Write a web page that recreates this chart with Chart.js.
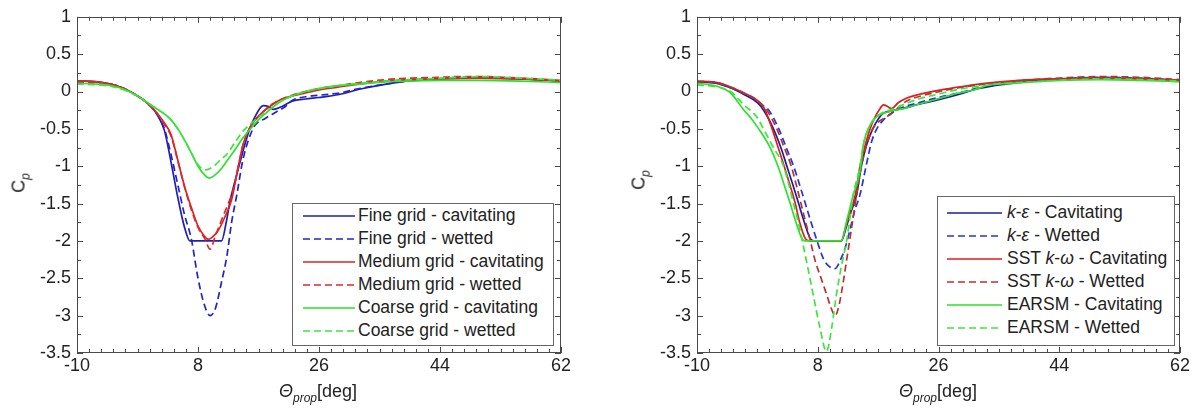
<!DOCTYPE html>
<html>
<head>
<meta charset="utf-8">
<script src="https://cdn.jsdelivr.net/npm/chart.js@4"></script>
<style>
  body { margin: 0; background: #fff; }
  #wrap { position: relative; width: 1199px; height: 410px; background: #fff; font-family: 'Liberation Sans', Arial, sans-serif; color: #222; }
  canvas { position: absolute; top: 0; }
  .ytitle { position: absolute; font-size: 18px; white-space: nowrap; transform: translate(-50%, -50%) rotate(-90deg); }
  .ytitle sub, .xtitle sub { font-size: 12px; line-height: 0; font-style: italic; }
  .xtitle { position: absolute; font-size: 18px; line-height: 20px; white-space: nowrap; transform: translateX(-50%); }
  .legend { position: absolute; border: 1px solid #666; background: #fff; box-sizing: border-box; font-size: 17.5px; }
  .legend .row { display: flex; align-items: center; height: 23px; white-space: nowrap; }
  .legend svg { display: block; }
</style>
</head>
<body>
<div id="wrap">
  <canvas id="c1" width="600" height="410" style="left:0"></canvas>
  <canvas id="c2" width="599" height="410" style="left:600px"></canvas>
  <div class="ytitle" style="left:19px;top:183px">C<sub>p</sub></div>
  <div class="ytitle" style="left:639px;top:180px">C<sub>p</sub></div>
  <div class="xtitle" style="left:318px;top:381px"><i>&Theta;</i><sub>prop</sub>[deg]</div>
  <div class="xtitle" style="left:938px;top:381px"><i>&Theta;</i><sub>prop</sub>[deg]</div>
  <div class="legend" id="leg1" style="left:292px;top:203px;width:262px;height:143px;padding-top:0px"></div>
  <div class="legend" id="leg2" style="left:937px;top:196px;width:238px;height:150px;padding-top:4px"></div>
</div>
<script>
'use strict';

// axis ticks
let xTickValues = [-10, 8, 26, 44, 62];
let yTickValues = [1, 0.5, 0, -0.5, -1, -1.5, -2, -2.5, -3, -3.5];

// ---- left chart: grid study ----
let gridLabels = ['Fine grid - cavitating', 'Fine grid - wetted', 'Medium grid - cavitating',
  'Medium grid - wetted', 'Coarse grid - cavitating', 'Coarse grid - wetted'];

let fineCavX = [-10, -7, -5, -3, -1, 0, 1, 2, 3, 4, 5, 6, 6.8, 11.5, 12.2, 12.8, 13.5, 14.3, 15, 15.7, 16.7, 17.7, 18.5, 19.2, 20.5, 22, 24, 26, 29, 32, 36, 40, 44, 50, 56, 62];
let fineCavY = [0.14, 0.13, 0.1, 0.04, -0.06, -0.12, -0.2, -0.32, -0.52, -0.95, -1.42, -1.82, -2.0, -2.0, -1.75, -1.45, -1.2, -0.93, -0.7, -0.5, -0.3, -0.19, -0.2, -0.24, -0.2, -0.13, -0.1, -0.08, -0.04, 0.03, 0.1, 0.15, 0.17, 0.18, 0.17, 0.14];

let fineWetX = [-10, -7, -5, -3, -1, 0, 1, 2, 3, 4, 5, 6, 7, 8, 9, 9.8, 10.6, 11.5, 12.3, 13, 13.8, 14.6, 15.5, 16.5, 18, 19.7, 21, 22, 24, 26, 29, 32, 36, 40, 44, 47, 50, 56, 62];
let fineWetY = [0.13, 0.12, 0.1, 0.04, -0.06, -0.12, -0.2, -0.32, -0.5, -0.85, -1.25, -1.65, -1.97, -2.5, -2.87, -3.0, -2.9, -2.55, -2.2, -1.75, -1.37, -0.95, -0.65, -0.45, -0.36, -0.27, -0.2, -0.12, -0.07, -0.05, -0.02, 0.04, 0.1, 0.15, 0.17, 0.19, 0.19, 0.17, 0.14];

let medCavX = [-10, -7, -5, -3, -1, 0, 1, 2, 3, 4, 5, 6, 7, 8, 9, 9.5, 10, 11, 12, 13, 14, 14.7, 15.5, 16.5, 17.7, 19, 20.5, 22, 24, 26, 29, 32, 36, 40, 44, 47, 50, 56, 62];
let medCavY = [0.14, 0.13, 0.1, 0.04, -0.06, -0.12, -0.2, -0.3, -0.42, -0.58, -0.92, -1.27, -1.55, -1.8, -1.94, -1.98, -1.96, -1.86, -1.68, -1.45, -1.0, -0.71, -0.52, -0.38, -0.27, -0.18, -0.1, -0.06, -0.02, 0.02, 0.06, 0.1, 0.14, 0.16, 0.17, 0.18, 0.18, 0.17, 0.14];

let medWetX = [-10, -7, -5, -3, -1, 0, 1, 2, 3, 4, 5, 6, 7, 8, 9, 9.8, 10.6, 11.5, 12.5, 13.3, 14, 14.7, 15.5, 16.5, 17.7, 19, 20.5, 22, 24, 26, 29, 32, 36, 40, 44, 47, 50, 56, 62];
let medWetY = [0.13, 0.12, 0.1, 0.04, -0.06, -0.12, -0.2, -0.3, -0.44, -0.6, -0.93, -1.28, -1.58, -1.82, -1.97, -2.11, -1.93, -1.72, -1.5, -1.3, -1.0, -0.72, -0.52, -0.38, -0.27, -0.17, -0.1, -0.05, 0.0, 0.04, 0.08, 0.12, 0.16, 0.18, 0.19, 0.2, 0.2, 0.18, 0.15];

let coarseCavX = [-10, -7, -5, -3, -1, 0, 1, 2, 3, 4, 5, 6, 7, 8, 9, 9.7, 10.5, 11.5, 12.3, 13.5, 14.7, 16, 17.2, 18.5, 20, 22, 24, 26, 29, 32, 36, 40, 44, 47, 50, 56, 62];
let coarseCavY = [0.11, 0.1, 0.08, 0.03, -0.06, -0.12, -0.18, -0.24, -0.3, -0.38, -0.5, -0.65, -0.82, -1.0, -1.12, -1.16, -1.12, -1.03, -0.93, -0.78, -0.62, -0.48, -0.36, -0.26, -0.15, -0.06, 0.0, 0.04, 0.08, 0.1, 0.13, 0.14, 0.15, 0.15, 0.15, 0.14, 0.12];

let coarseWetX = [-10, -7, -5, -3, -1, 0, 1, 2, 3, 4, 5, 6, 7, 8, 9, 9.8, 10.6, 11.5, 12.3, 13.5, 14.7, 16, 17.2, 18.5, 20, 22, 24, 26, 29, 32, 36, 40, 44, 47, 50, 56, 62];
let coarseWetY = [0.1, 0.09, 0.07, 0.02, -0.06, -0.12, -0.18, -0.24, -0.3, -0.38, -0.5, -0.65, -0.82, -0.98, -1.05, -1.03, -0.98, -0.9, -0.84, -0.68, -0.53, -0.42, -0.33, -0.25, -0.15, -0.06, 0.0, 0.04, 0.08, 0.11, 0.14, 0.16, 0.18, 0.19, 0.2, 0.18, 0.15];

// ---- right chart: turbulence models ----
let modelLabels = ['k-ε - Cavitating', 'k-ε - Wetted', 'SST k-ω - Cavitating',
  'SST k-ω - Wetted', 'EARSM - Cavitating', 'EARSM - Wetted'];

let keCavX = [-10, -7, -5, -3, -1, 0, 1.4, 2.5, 3.4, 4.3, 5.15, 6, 6.9, 7.4, 11.5, 12.3, 13, 13.8, 14.5, 15.3, 16.2, 17, 17.8, 19, 21, 23, 26, 29, 32, 36, 40, 44, 50, 56, 62];
let keCavY = [0.13, 0.11, 0.05, -0.04, -0.15, -0.26, -0.5, -0.75, -1.0, -1.25, -1.5, -1.75, -1.97, -2.0, -2.0, -1.8, -1.6, -1.38, -1.0, -0.71, -0.5, -0.37, -0.29, -0.26, -0.22, -0.17, -0.11, -0.04, 0.04, 0.1, 0.14, 0.16, 0.18, 0.17, 0.15];

let keWetX = [-10, -7, -5, -3, -1, 0, 0.7, 2.2, 3.3, 4.4, 5.3, 6.15, 7.0, 7.9, 8.9, 9.7, 10.6, 11.4, 12.1, 12.8, 13.5, 14.3, 15.2, 16, 16.8, 17.8, 19.3, 21, 23, 26, 29, 32, 36, 40, 44, 50, 56, 62];
let keWetY = [0.13, 0.11, 0.05, -0.03, -0.13, -0.2, -0.25, -0.5, -0.75, -1.0, -1.25, -1.5, -1.75, -2.0, -2.25, -2.34, -2.37, -2.25, -2.09, -1.85, -1.6, -1.38, -1.0, -0.68, -0.5, -0.38, -0.27, -0.2, -0.15, -0.08, -0.02, 0.05, 0.11, 0.15, 0.17, 0.19, 0.18, 0.15];

let sstCavX = [-10, -7, -5, -3, -1, 0, 1.2, 2.1, 3.0, 3.85, 4.65, 5.3, 6.15, 6.7, 11.5, 12.2, 12.9, 13.6, 14.3, 15.1, 15.8, 16.5, 17.2, 17.8, 18.4, 19, 20, 21.2, 23, 26.2, 29, 31.2, 34, 38, 44, 50, 56, 62];
let sstCavY = [0.14, 0.12, 0.06, -0.02, -0.12, -0.22, -0.5, -0.75, -1.0, -1.25, -1.5, -1.75, -1.97, -2.0, -2.0, -1.8, -1.6, -1.38, -1.0, -0.71, -0.5, -0.35, -0.24, -0.18, -0.2, -0.23, -0.15, -0.09, -0.04, 0.02, 0.06, 0.09, 0.12, 0.15, 0.17, 0.18, 0.17, 0.15];

let sstWetX = [-10, -7, -5, -3, -1, 0.4, 1.9, 3, 4.05, 4.8, 5.5, 6.2, 6.9, 7.6, 8.5, 9.3, 10, 10.6, 11.2, 11.8, 12.3, 13, 13.8, 14.5, 15.3, 16.2, 17.8, 18.8, 21.2, 23, 26.2, 29, 32, 36, 40, 44, 50, 56, 62];
let sstWetY = [0.14, 0.12, 0.06, -0.02, -0.12, -0.25, -0.5, -0.75, -1.0, -1.25, -1.5, -1.75, -2.0, -2.26, -2.5, -2.71, -2.9, -3.0, -2.85, -2.55, -2.26, -1.85, -1.38, -1.0, -0.71, -0.5, -0.36, -0.31, -0.13, -0.07, 0.0, 0.05, 0.09, 0.13, 0.16, 0.18, 0.2, 0.19, 0.16];

let earsmCavX = [-10, -7, -5, -3, -2, -0.8, 0.9, 2.07, 3.0, 3.9, 4.75, 5.65, 6.1, 11.5, 12.4, 13.3, 14.3, 14.8, 15.8, 16.5, 17.3, 19, 21.2, 23, 26.2, 29, 31.2, 33.7, 37, 40, 44, 50, 56, 62];
let earsmCavY = [0.11, 0.07, -0.02, -0.25, -0.35, -0.5, -0.75, -1.0, -1.25, -1.5, -1.75, -1.97, -2.0, -2.0, -1.7, -1.38, -1.07, -0.71, -0.45, -0.36, -0.31, -0.26, -0.22, -0.17, -0.09, -0.02, 0.02, 0.09, 0.11, 0.13, 0.15, 0.16, 0.15, 0.13];

let earsmWetX = [-10, -7, -5, -3, -1, -0.1, 1.4, 2.9, 3.7, 4.4, 5.1, 5.7, 6.5, 7.3, 8.3, 9.3, 10.1, 10.8, 11.5, 12.3, 13.3, 14.3, 14.8, 15.8, 17.3, 19, 21.2, 23, 26.2, 29, 32, 36, 40, 44, 50, 56, 62];
let earsmWetY = [0.09, 0.06, 0.0, -0.18, -0.35, -0.5, -0.75, -1.0, -1.25, -1.5, -1.75, -2.0, -2.35, -2.71, -3.15, -3.48, -3.15, -2.71, -2.35, -2.0, -1.38, -1.0, -0.71, -0.45, -0.3, -0.24, -0.16, -0.1, -0.03, 0.03, 0.07, 0.11, 0.13, 0.15, 0.17, 0.16, 0.14];

let gridColors = ['#1f1fb4', '#2323c8', '#dc2222', '#dc2a2a', '#2de02d', '#3ce63c'];
let modelColors = ['#1a1f9a', '#2436d6', '#e21c1c', '#bb3030', '#2de02d', '#3ce63c'];

Chart.defaults.font.family = "'Liberation Sans', Arial, sans-serif";
Chart.defaults.color = '#222';

function pts(xs, ys) {
  let out = [];
  for (let i = 0; i < xs.length; i++) {
    out.push({ x: xs[i], y: ys[i] });
  }
  return out;
}

// box round the plot plus inward minor/major ticks like matlab
let frameTicks = {
  id: 'frameTicks',
  afterDraw(chart) {
    let ctx = chart.ctx;
    let a = chart.chartArea;
    let xs = chart.scales.x;
    let ys = chart.scales.y;
    ctx.save();
    ctx.strokeStyle = '#4a4a4a';
    ctx.lineWidth = 1;
    ctx.strokeRect(Math.round(a.left) + 0.5, Math.round(a.top) + 0.5, Math.round(a.width) - 1, Math.round(a.height) - 1);
    ctx.beginPath();
    for (let i = 0; i <= 40; i++) {
      let px = Math.round(xs.getPixelForValue(-10 + i * 1.8)) + 0.5;
      let len = i % 10 === 0 ? 6 : 4;
      ctx.moveTo(px, a.bottom); ctx.lineTo(px, a.bottom - len);
      ctx.moveTo(px, a.top); ctx.lineTo(px, a.top + len);
    }
    for (let i = 0; i <= 18; i++) {
      let py = Math.round(ys.getPixelForValue(-3.5 + i * 0.25)) + 0.5;
      let len = i % 2 === 0 ? 6 : 4;
      ctx.moveTo(a.left, py); ctx.lineTo(a.left + len, py);
      ctx.moveTo(a.right, py); ctx.lineTo(a.right - len, py);
    }
    ctx.stroke();
    ctx.restore();
  }
};

function makeChart(id, labels, xArr, yArr, colors, yAxisWidth, padRight) {
  let datasets = [];
  for (let i = 0; i < labels.length; i++) {
    datasets.push({
      label: labels[i],
      data: pts(xArr[i], yArr[i]),
      borderColor: colors[i],
      borderWidth: 1.7,
      borderDash: i % 2 === 1 ? [7, 4] : [],
      pointRadius: 0,
      fill: false,
      cubicInterpolationMode: 'monotone',
      order: labels.length - i
    });
  }
  return new Chart(document.getElementById(id), {
    type: 'line',
    data: { datasets: datasets },
    options: {
      responsive: false,
      animation: false,
      devicePixelRatio: 1,
      layout: { padding: { left: 0, right: padRight, top: 15, bottom: 0 } },
      plugins: { legend: { display: false }, tooltip: { enabled: false } },
      scales: {
        x: {
          type: 'linear', min: -10, max: 62,
          grid: { display: false, drawTicks: false },
          border: { display: false },
          afterBuildTicks: function (s) { s.ticks = xTickValues.map(v => ({ value: v })); },
          afterFit: function (s) { s.height = 57; },
          ticks: { font: { size: 18 }, padding: 2, maxRotation: 0, autoSkip: false, callback: v => String(v) }
        },
        y: {
          type: 'linear', min: -3.5, max: 1,
          grid: { display: false, drawTicks: false },
          border: { display: false },
          afterBuildTicks: function (s) { s.ticks = yTickValues.map(v => ({ value: v })); },
          afterFit: function (s) { s.width = yAxisWidth; },
          ticks: { font: { size: 18 }, padding: 6, autoSkip: false, callback: v => String(v) }
        }
      }
    },
    plugins: [frameTicks]
  });
}

let chart1 = makeChart('c1', gridLabels,
  [fineCavX, fineWetX, medCavX, medWetX, coarseCavX, coarseWetX],
  [fineCavY, fineWetY, medCavY, medWetY, coarseCavY, coarseWetY],
  gridColors, 77, 39);

let chart2 = makeChart('c2', modelLabels,
  [keCavX, keWetX, sstCavX, sstWetX, earsmCavX, earsmWetX],
  [keCavY, keWetY, sstCavY, sstWetY, earsmCavY, earsmWetY],
  modelColors, 97, 19);

// html legend built from the chart datasets (k, epsilon, omega in italics)
function fancy(text) {
  return text.replace(/k-ε/g, '<i>k</i>-<i>ε</i>').replace(/k-ω/g, '<i>k</i>-<i>ω</i>');
}

function buildLegend(chart, boxId, lineLeft, lineLen, gap) {
  let box = document.getElementById(boxId);
  chart.data.datasets.forEach(function (ds) {
    let row = document.createElement('div');
    row.className = 'row';
    let dash = ds.borderDash.length ? 'stroke-dasharray="7 4"' : '';
    row.innerHTML = '<svg width="' + (lineLeft + lineLen) + '" height="4" style="margin-right:' + gap + 'px">' +
      '<line x1="' + lineLeft + '" y1="2" x2="' + (lineLeft + lineLen) + '" y2="2" stroke="' + ds.borderColor +
      '" stroke-width="1.7" ' + dash + '/></svg><span>' + fancy(ds.label) + '</span>';
    box.appendChild(row);
  });
}

buildLegend(chart1, 'leg1', 10, 52, 3);
buildLegend(chart2, 'leg2', 9, 55, 5);
</script>
</body>
</html>
